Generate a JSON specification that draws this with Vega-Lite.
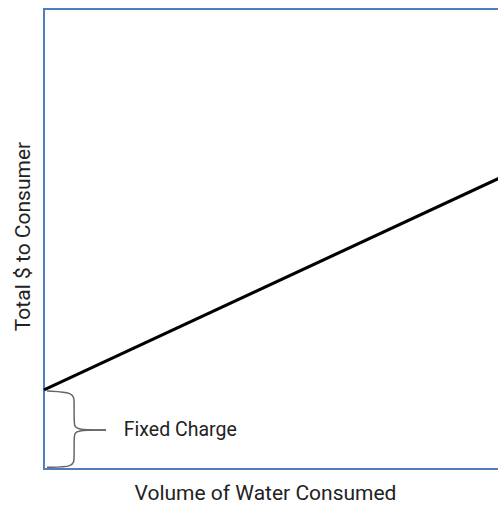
{
  "$schema": "https://vega.github.io/schema/vega-lite/v6.json",
  "autosize": {"type": "none"},
  "padding": {"left": 44, "top": 9, "right": 0, "bottom": 37},
  "width": 456,
  "height": 460,
  "background": "white",
  "config": {
    "view": {"stroke": "#4f7fbb", "strokeWidth": 2},
    "font": "Roboto"
  },
  "datasets": {
    "cost": [{"volume": 0, "total": 17.2}, {"volume": 100, "total": 63.3}],
    "brace": [
      {"part": "top", "order": 1, "volume": 0.66, "total": 16.96},
      {"part": "top", "order": 2, "volume": 6.6, "total": 16.7},
      {"part": "top", "order": 3, "volume": 6.6, "total": 14.6},
      {"part": "top", "order": 4, "volume": 6.6, "total": 9.8},
      {"part": "top", "order": 5, "volume": 6.8, "total": 8.5},
      {"part": "top", "order": 6, "volume": 13.6, "total": 8.5},
      {"part": "bottom", "order": 1, "volume": 13.6, "total": 8.5},
      {"part": "bottom", "order": 2, "volume": 6.8, "total": 8.5},
      {"part": "bottom", "order": 3, "volume": 6.6, "total": 7.2},
      {"part": "bottom", "order": 4, "volume": 6.6, "total": 2.4},
      {"part": "bottom", "order": 5, "volume": 6.6, "total": 0.4},
      {"part": "bottom", "order": 6, "volume": 0.66, "total": 0.4}
    ],
    "label": [{"volume": 17.5, "total": 8.5, "text": "Fixed Charge"}]
  },
  "layer": [
    {
      "data": {"name": "cost"},
      "mark": {"type": "line", "color": "black", "strokeWidth": 3},
      "encoding": {
        "x": {"field": "volume", "type": "quantitative", "scale": {"domain": [0, 100], "nice": false, "zero": false},
          "axis": {"title": "Volume of Water Consumed", "domain": false, "ticks": false, "labels": false, "grid": false,
            "titleFontSize": 21, "titleFontWeight": "normal", "titleColor": "#222", "titlePadding": 13, "titleX": 221}},
        "y": {"field": "total", "type": "quantitative", "scale": {"domain": [0, 100], "nice": false, "zero": false},
          "axis": {"title": "Total $ to Consumer", "domain": false, "ticks": false, "labels": false, "grid": false,
            "titleFontSize": 21, "titleFontWeight": "normal", "titleColor": "#222", "titlePadding": 11, "titleY": 227}}
      }
    },
    {
      "data": {"name": "brace"},
      "mark": {"type": "line", "color": "#666", "strokeWidth": 1.5, "interpolate": "basis"},
      "encoding": {
        "x": {"field": "volume", "type": "quantitative"},
        "y": {"field": "total", "type": "quantitative"},
        "detail": {"field": "part"},
        "order": {"field": "order", "type": "quantitative"}
      }
    },
    {
      "data": {"name": "label"},
      "mark": {"type": "text", "align": "left", "baseline": "middle", "fontSize": 19.5, "color": "#222"},
      "encoding": {
        "x": {"field": "volume", "type": "quantitative"},
        "y": {"field": "total", "type": "quantitative"},
        "text": {"field": "text"}
      }
    }
  ]
}
